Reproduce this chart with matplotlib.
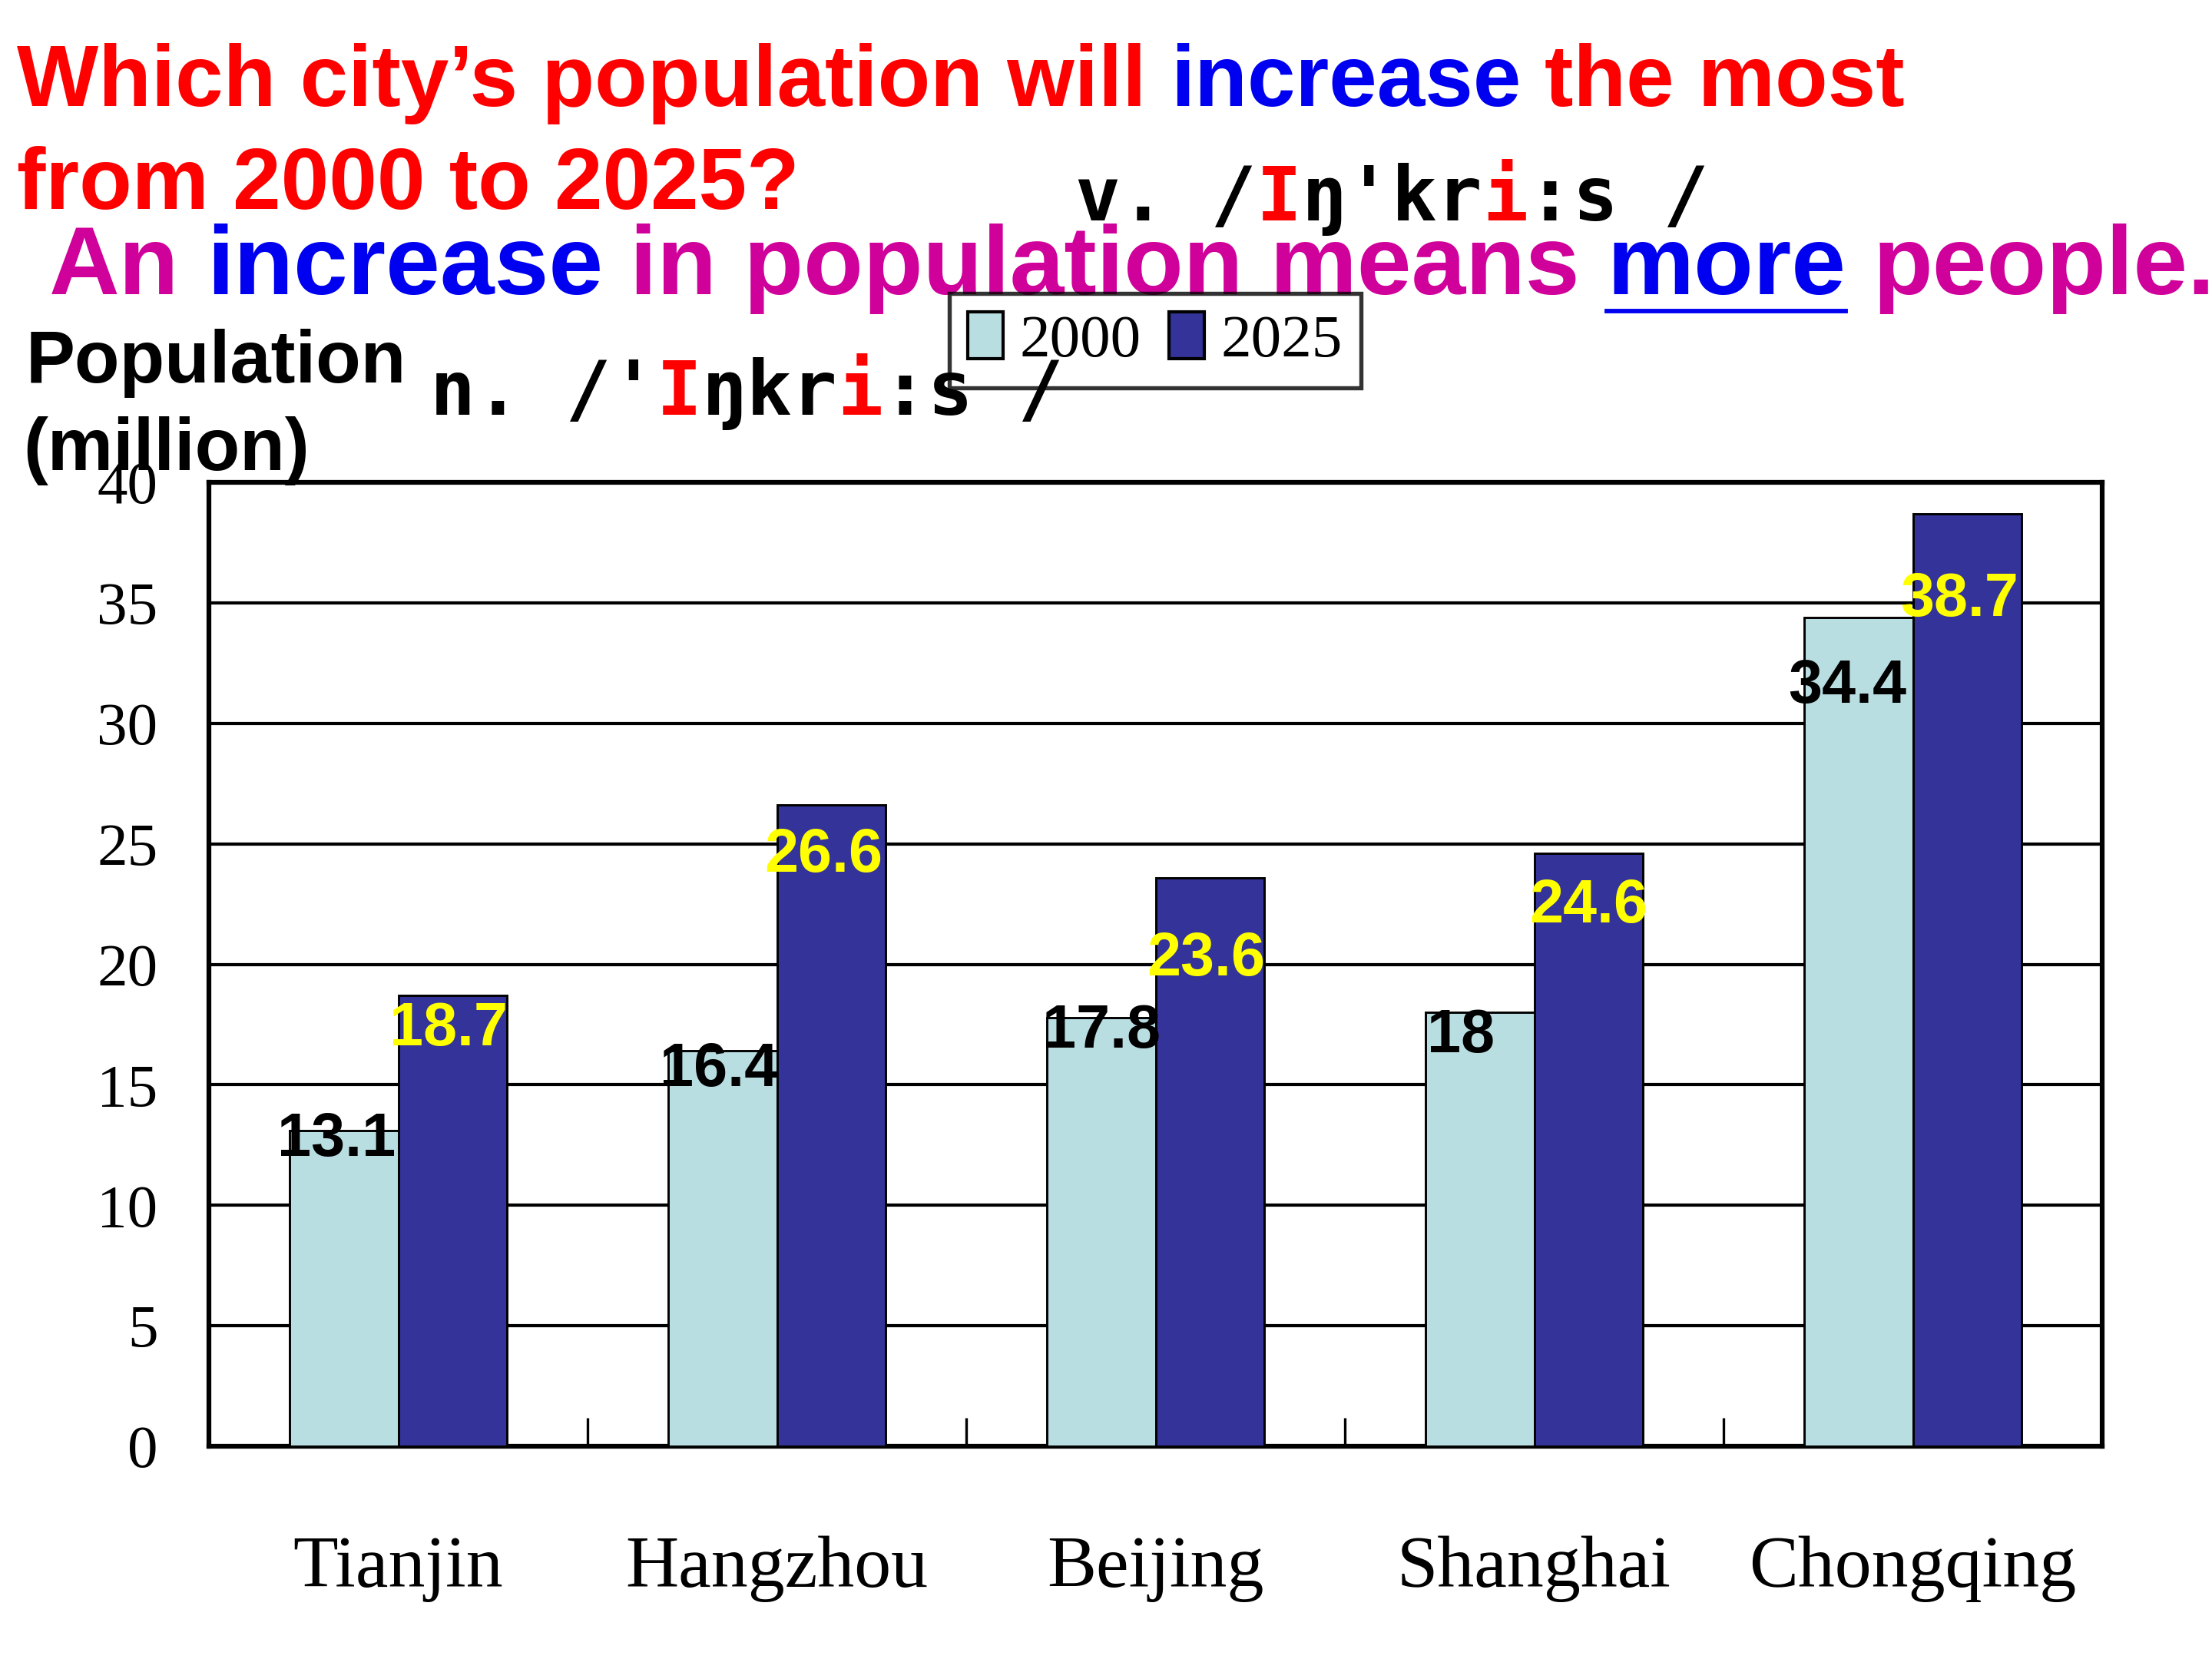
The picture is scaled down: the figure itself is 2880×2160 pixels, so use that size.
import numpy as np
import matplotlib
matplotlib.use("Agg")
import matplotlib.pyplot as plt
from matplotlib.lines import Line2D

# ---- data ----
cities = ["Tianjin", "Hangzhou", "Beijing", "Shanghai", "Chongqing"]
pop_2000 = [13.1, 16.4, 17.8, 18, 34.4]
pop_2025 = [18.7, 26.6, 23.6, 24.6, 38.7]
years = ["2000", "2025"]
y_ticks = [0, 5, 10, 15, 20, 25, 30, 35, 40]

# hand-placed label nudges (data units) as on the slide
dy_2000 = [-0.4, -0.8, -0.6, -1.0, -2.9]
dy_2025 = [-1.4, -2.1, -3.4, -2.2, -3.6]
dx_2000 = [-0.02, -0.01, 0.0, -0.05, -0.03]
dx_2025 = [-0.01, -0.02, -0.01, 0.0, -0.02]

c_light = "#B9DEE2"
c_dark = "#333399"
magenta = "#D0009A"
blue = "#0000F0"
red = "#FF0000"

W, H = 2880, 2160
fig = plt.figure(figsize=(9.6, 7.2), dpi=300)
ax = fig.add_axes([272 / W, 1 - 1883 / H, (2737 - 272) / W, (1883 - 628) / H])

x = np.arange(len(cities))
bw = 0.287
ax.bar(x - bw / 2, pop_2000, bw, color=c_light, edgecolor="black", linewidth=0.7, zorder=3, label=years[0])
ax.bar(x + bw / 2, pop_2025, bw, color=c_dark, edgecolor="black", linewidth=0.7, zorder=3, label=years[1])

ax.set_xlim(-0.5, len(cities) - 0.5)
ax.set_ylim(0, 40)
ax.set_yticks(y_ticks)
ax.set_yticklabels([str(v) for v in y_ticks], family="Liberation Serif", fontsize=19)
ax.set_xticks(x)
ax.set_xticklabels(cities, family="Liberation Serif", fontsize=23)
ax.set_xticks(x[:-1] + 0.5, minor=True)
ax.tick_params(axis="x", which="major", length=0, pad=28)
ax.tick_params(axis="x", which="minor", direction="in", length=9, width=0.8)
ax.tick_params(axis="y", length=0, pad=16)
ax.yaxis.grid(True, color="black", linewidth=1.0)
ax.set_axisbelow(True)
for s in ax.spines.values():
    s.set_linewidth(1.5)

# value labels
for i in range(len(cities)):
    ax.text(x[i] - bw / 2 + dx_2000[i], pop_2000[i] + dy_2000[i], str(pop_2000[i]),
            ha="center", va="center", family="Liberation Sans", weight="bold",
            fontsize=19, color="black", zorder=5)
    ax.text(x[i] + bw / 2 + dx_2025[i], pop_2025[i] + dy_2025[i], str(pop_2025[i]),
            ha="center", va="center", family="Liberation Sans", weight="bold",
            fontsize=19, color="#FFFF00", zorder=5)

leg = ax.legend(loc="upper left", bbox_to_anchor=(1236 / W, 1 - 382 / H),
                bbox_transform=fig.transFigure, ncol=2, frameon=True, fancybox=False,
                prop={"family": "Liberation Serif", "size": 19},
                handlelength=0.58, handleheight=0.81, handletextpad=0.28,
                columnspacing=0.45, borderpad=0.3, borderaxespad=0)
leg.get_frame().set_edgecolor("black")
leg.get_frame().set_linewidth(1.3)
leg.get_frame().set_facecolor("none")
for p in leg.get_patches():
    p.set_edgecolor("black")
    p.set_linewidth(1.0)

# ---- slide texts ----
fig.canvas.draw()
rend = fig.canvas.get_renderer()


def width_of(s, **kw):
    t = fig.text(0, 0, s, **kw)
    w = t.get_window_extent(rend).width
    t.remove()
    return w


def colored_line(x0, y0, parts, **kw):
    sp = width_of("n n", **kw) - width_of("nn", **kw)
    xp = x0
    boxes = []
    for s, c in parts:
        if s == " ":
            xp += sp
            continue
        t = fig.text(xp / W, 1 - y0 / H, s, color=c, ha="left", va="baseline", **kw)
        bb = t.get_window_extent(rend)
        boxes.append(bb)
        xp = bb.x1
    return boxes


title_kw = dict(family="Liberation Sans", weight="bold", fontsize=27)
colored_line(22, 138, [("Which city’s population will", red), (" ", None),
                       ("increase", blue), (" ", None), ("the most", red)], **title_kw)
colored_line(22, 272, [("from 2000 to 2025?", red)], **title_kw)

line3_kw = dict(family="Liberation Sans", weight="bold", fontsize=30.5, zorder=-1)
boxes = colored_line(64, 383, [("An", magenta), (" ", None), ("increase", blue), (" ", None),
                               ("in population means", magenta), (" ", None),
                               ("more", blue), (" ", None), ("people.", magenta)], **line3_kw)
more_bb = boxes[3]
fig.add_artist(Line2D([more_bb.x0 / W, more_bb.x1 / W], [1 - 405 / H, 1 - 405 / H],
                      color=blue, linewidth=1.4, zorder=-1))

ph_kw = dict(family="DejaVu Sans Mono", weight="bold", fontsize=23.5)
colored_line(1400, 287, [("v. /", "black"), ("I", red), ("ŋ'kr", "black"),
                         ("i", red), (":s /", "black")], **ph_kw)
colored_line(560, 540, [("n. /'", "black"), ("I", red), ("ŋkr", "black"),
                        ("i", red), (":s /", "black")], **ph_kw)

fig.text(34 / W, 1 - 498 / H, "Population", family="Liberation Sans", weight="bold",
         fontsize=23, ha="left", va="baseline")
fig.text(30 / W, 1 - 612 / H, "(million)", family="Liberation Sans", weight="bold",
         fontsize=23, ha="left", va="baseline")

fig.savefig("out.png", dpi=300)
